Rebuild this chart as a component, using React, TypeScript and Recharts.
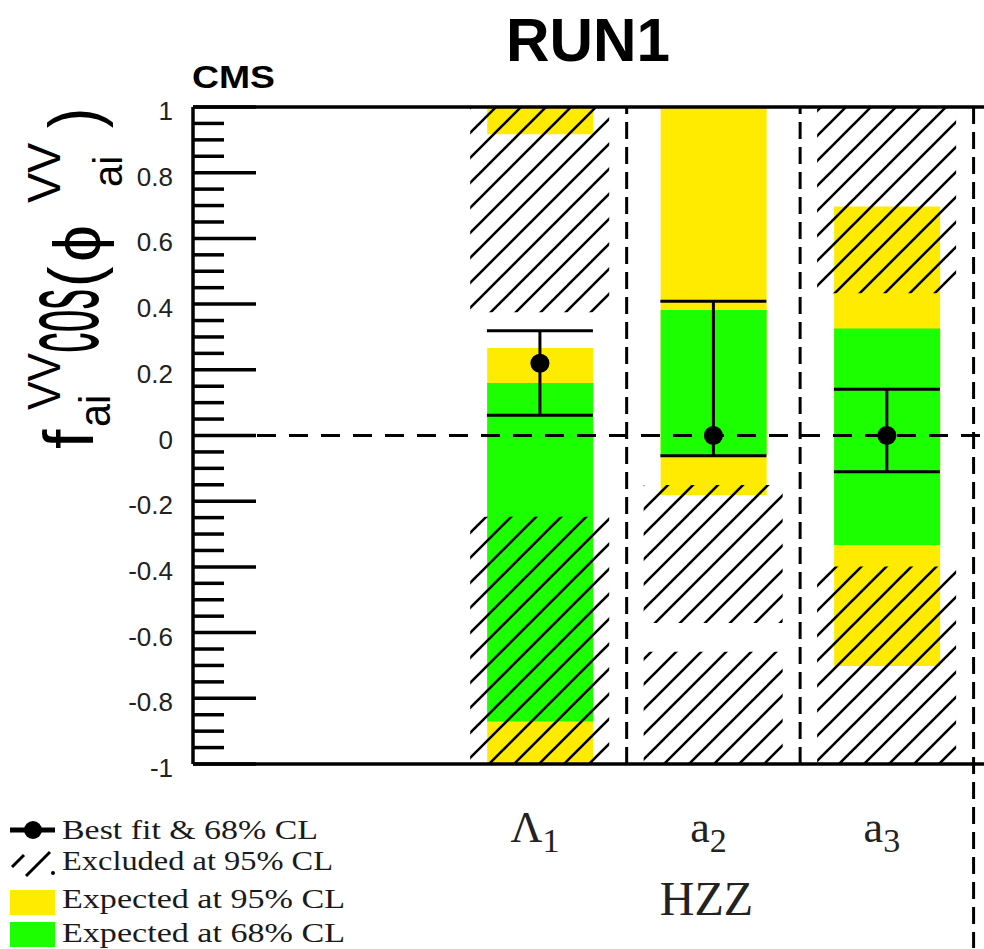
import React from 'react';
import {
  ComposedChart,
  Bar,
  Scatter,
  ErrorBar,
  XAxis,
  YAxis,
  ReferenceLine,
  Legend,
} from 'recharts';

// ---------------- data ----------------
const categories = ['Λ1', 'a2', 'a3'];
const groupLabel = 'HZZ';
const groupIndex = 1;

const bestFit = [0.22, 0, 0];
const fitLow = [0.062, -0.062, -0.11];
const fitHigh = [0.319, 0.409, 0.141];

// expected 95% CL (yellow) intervals
const expected95Main: ([number, number] | null)[] = [[-1, 0.266], [-0.181, 1], [-0.702, 0.697]];
const expected95Extra: ([number, number] | null)[] = [[0.917, 1], null, null];
// expected 68% CL (green)
const expected68: ([number, number] | null)[] = [[-0.871, 0.16], [-0.062, 0.382], [-0.333, 0.326]];
// excluded at 95% CL (hatched)
const excludedUpper: ([number, number] | null)[] = [[0.375, 1], [-0.571, -0.151], [0.433, 1]];
const excludedLower: ([number, number] | null)[] = [[-1, -0.247], [-1, -0.658], [-1, -0.399]];

const yMajorTicks = [-1, -0.8, -0.6, -0.4, -0.2, 0, 0.2, 0.4, 0.6, 0.8, 1];
const legendLabels = ['Best fit & 68% CL', 'Excluded at 95% CL', 'Expected at 95% CL', 'Expected at 68% CL'];

// ---------------- derived table ----------------
const table = categories.map((name, i) => ({
  idx: i,
  name,
  y95a: expected95Main[i],
  y95b: expected95Extra[i],
  g68: expected68[i],
  exA: excludedUpper[i],
  exB: excludedLower[i],
  best: bestFit[i],
  err: [bestFit[i] - fitLow[i], fitHigh[i] - bestFit[i]],
}));

const yTicks: number[] = [];
yMajorTicks.forEach((v, k) => {
  yTicks.push(v);
  if (k < yMajorTicks.length - 1) {
    [0.05, 0.1, 0.15].forEach((d) => yTicks.push(Math.round((v + d) * 100) / 100));
  }
});

const xDomain: [number, number] = [-2, 2.56];
const separators = categories.map((_, i) => i + 0.5);
const SEPARATOR_EXTENT = -1.56;

const YELLOW = '#FFEB00';
const GREEN = '#1CFF00';
const SANS = '"Liberation Sans", Arial, Helvetica, sans-serif';
const SERIF = '"Liberation Serif", "Times New Roman", serif';

const isMajor = (v: number) => Math.abs(v * 5 - Math.round(v * 5)) < 1e-6;
const fmt = (v: number) => {
  const r = Math.round(v * 10) / 10;
  return (Object.is(r, -0) ? 0 : r).toString();
};

const YTick = (props: any) => {
  const { x, y, payload } = props;
  const v = payload.value as number;
  const major = isMajor(v);
  const ax = x + 20;
  return (
    <g>
      <line x1={ax} x2={ax + (major ? 63 : 31)} y1={y} y2={y} stroke="#000" strokeWidth={3.5} />
      {major && (
        <text x={x} y={y} dy={13} textAnchor="end" fontFamily={SANS} fontSize={26} fill="#222">
          {fmt(v)}
        </text>
      )}
    </g>
  );
};

const XTick = (props: any) => {
  const { x, y, payload } = props;
  const i = payload.value as number;
  const label = categories[i];
  if (!label) return null;
  const main = label[0];
  const sub = label.slice(1);
  return (
    <g>
      <text x={x - 5} y={y + 78} textAnchor="middle" fontFamily={SERIF} fontSize={44} fill="#222">
        <tspan>{main}</tspan>
        <tspan fontSize={34} dy={10}>{sub}</tspan>
      </text>
      {i === groupIndex && (
        <text x={x - 7} y={y + 151} textAnchor="middle" fontFamily={SERIF} fontSize={48} fill="#222">
          {groupLabel}
        </text>
      )}
    </g>
  );
};

const Dot = (props: any) => {
  const { cx, cy } = props;
  if (cx == null || cy == null) return null;
  return <circle cx={cx} cy={cy} r={9.5} fill="#000" />;
};

const LegendContent = () => {
  const rowBase = [29, 60, 98, 132];
  const textLen = [256, 271, 283, 283];
  return (
    <svg width={360} height={140} style={{ display: 'block', overflow: 'visible' }}>
      {/* best fit */}
      <line x1={10} x2={55} y1={20} y2={20} stroke="#000" strokeWidth={5} />
      <circle cx={33} cy={20} r={9} fill="#000" />
      {/* hatch */}
      <line x1={12} y1={57} x2={24} y2={45} stroke="#000" strokeWidth={3} />
      <line x1={26} y1={66} x2={50} y2={42} stroke="#000" strokeWidth={3} />
      <circle cx={53} cy={63} r={2} fill="#000" />
      {/* yellow, green */}
      <rect x={10} y={80} width={45} height={25} fill={YELLOW} />
      <rect x={10} y={112} width={45} height={25} fill={GREEN} />
      {legendLabels.map((t, k) => (
        <text
          key={t}
          x={62}
          y={rowBase[k]}
          fontFamily={SERIF}
          fontSize={28}
          fill="#1a1a1a"
          textLength={textLen[k]}
          lengthAdjust="spacingAndGlyphs"
        >
          {t}
        </text>
      ))}
    </svg>
  );
};

// pieces of the rotated y-axis title: baseline x, start y, font size, stretch along text
const yLabelParts = [
  { t: 'f', x: 93, y: 449, fs: 70, sx: 1.0 },
  { t: 'VV', x: 60, y: 410, fs: 46, sx: 0.93 },
  { t: 'ai', x: 110, y: 427, fs: 44, sx: 0.94 },
  { t: 'cos', x: 98, y: 353, fs: 110, sx: 0.375 },
  { t: '(', x: 98, y: 287, fs: 70, sx: 0.87 },
  { t: 'ϕ', x: 100, y: 262, fs: 66, sx: 1.0 },
  { t: 'VV', x: 60, y: 203, fs: 46, sx: 0.98 },
  { t: 'ai', x: 122, y: 187, fs: 40, sx: 1.0 },
  { t: ')', x: 98, y: 128, fs: 70, sx: 0.87 },
];

export default function App() {
  const hiddenAxes = ['y95a', 'y95b', 'g68', 'exA', 'exB'];
  return (
    <div style={{ position: 'absolute', left: 0, top: 0, width: 984, height: 949, background: '#fff', overflow: 'hidden' }}>
      <svg width={0} height={0} style={{ position: 'absolute' }}>
        <defs>
          <pattern id="hatch" patternUnits="userSpaceOnUse" width={25} height={25} x={3} y={0}>
            <path d="M0,25 L25,0 M-5,5 L5,-5 M20,30 L30,20" stroke="#000" strokeWidth={2.6} />
          </pattern>
        </defs>
      </svg>
      <ComposedChart
        width={984}
        height={949}
        data={table}
        margin={{ top: 107, right: 0, left: 113, bottom: 125 }}
      >
        <XAxis
          xAxisId="main"
          type="number"
          dataKey="idx"
          domain={xDomain}
          allowDataOverflow
          ticks={categories.map((_, i) => i)}
          interval={0}
          tickLine={false}
          tickSize={0}
          tickMargin={0}
          axisLine={{ stroke: '#000', strokeWidth: 3.5 }}
          tick={<XTick />}
          height={60}
        />
        {hiddenAxes.map((id) => (
          <XAxis
            key={id}
            xAxisId={id}
            type="number"
            dataKey="idx"
            domain={xDomain}
            allowDataOverflow
            hide
            height={0}
            orientation="top"
          />
        ))}
        <YAxis
          type="number"
          domain={[-1, 1]}
          allowDataOverflow
          ticks={yTicks}
          interval={0}
          tickLine={false}
          tickSize={20}
          tickMargin={0}
          width={80}
          axisLine={{ stroke: '#000', strokeWidth: 3.5 }}
          tick={<YTick />}
        />
        <Bar xAxisId="y95a" dataKey="y95a" fill={YELLOW} barSize={106} isAnimationActive={false} />
        <Bar xAxisId="y95b" dataKey="y95b" fill={YELLOW} barSize={106} isAnimationActive={false} />
        <Bar xAxisId="g68" dataKey="g68" fill={GREEN} barSize={106} isAnimationActive={false} />
        <Bar xAxisId="exA" dataKey="exA" fill="url(#hatch)" barSize={139} isAnimationActive={false} />
        <Bar xAxisId="exB" dataKey="exB" fill="url(#hatch)" barSize={139} isAnimationActive={false} />
        <ReferenceLine xAxisId="main" y={0} stroke="#000" strokeWidth={3} strokeDasharray="19 13" />
        <ReferenceLine xAxisId="main" y={1} stroke="#000" strokeWidth={3.5} />
        {separators.map((s, k) =>
          k < separators.length - 1 ? (
            <ReferenceLine key={s} xAxisId="main" x={s} stroke="#000" strokeWidth={3} strokeDasharray="17 8" />
          ) : (
            <ReferenceLine
              key={s}
              xAxisId="main"
              segment={[
                { x: s, y: 1 },
                { x: s, y: SEPARATOR_EXTENT },
              ]}
              ifOverflow="visible"
              stroke="#000"
              strokeWidth={3}
              strokeDasharray="17 8"
            />
          )
        )}
        <Scatter xAxisId="main" dataKey="best" shape={<Dot />} isAnimationActive={false}>
          <ErrorBar dataKey="err" direction="y" width={53} stroke="#000" strokeWidth={3} isAnimationActive={false} />
        </Scatter>
        <Legend
          layout="vertical"
          align="center"
          verticalAlign="middle"
          content={<LegendContent />}
          wrapperStyle={{ position: 'absolute', left: 0, top: 810, width: 360, height: 140 }}
        />
      </ComposedChart>
      <svg
        width={984}
        height={949}
        style={{ position: 'absolute', left: 0, top: 0, pointerEvents: 'none' }}
      >
        <text x={588} y={61} textAnchor="middle" fontFamily={SANS} fontWeight="bold" fontSize={62} textLength={164} lengthAdjust="spacingAndGlyphs" fill="#000">
          RUN1
        </text>
        <text x={192} y={88} fontFamily={SANS} fontWeight="bold" fontSize={32} textLength={83} lengthAdjust="spacingAndGlyphs" fill="#000">
          CMS
        </text>
        {yLabelParts.map((p, k) => (
          <text
            key={k}
            transform={`translate(${p.x},${p.y}) rotate(-90) scale(${p.sx},1)`}
            fontFamily={SANS}
            fontSize={p.fs}
            fill="#000"
          >
            {p.t}
          </text>
        ))}
      </svg>
    </div>
  );
}
